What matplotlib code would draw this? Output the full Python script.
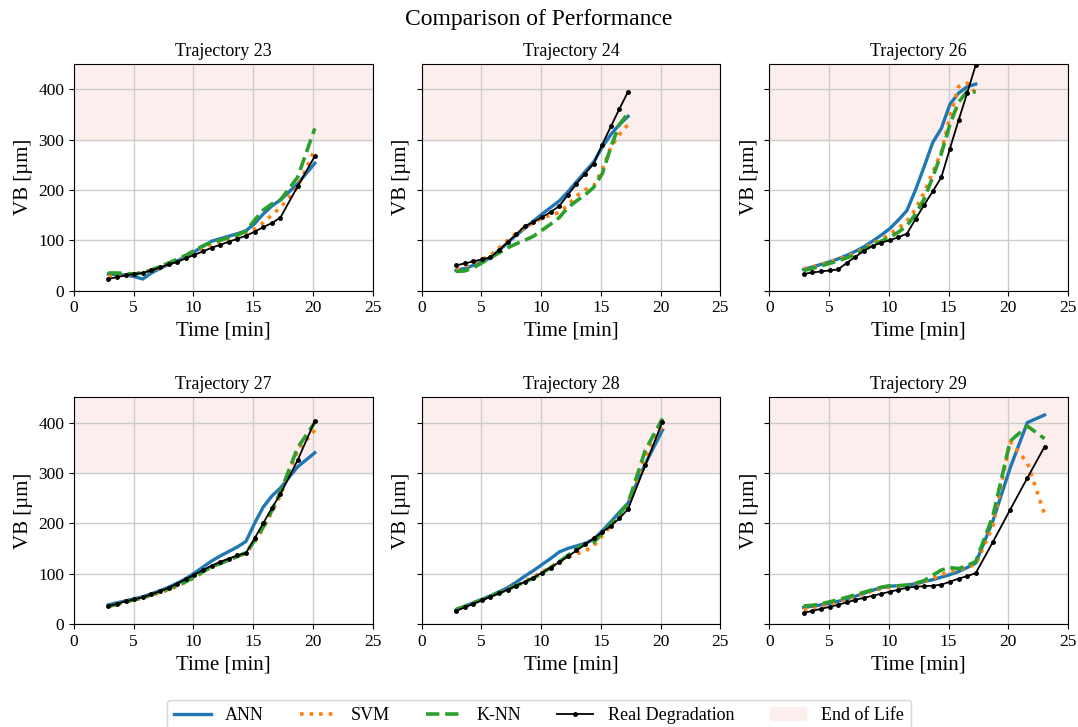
import matplotlib
matplotlib.use("Agg")
import matplotlib.pyplot as plt

plt.rcParams['font.family'] = ['Liberation Serif', 'DejaVu Serif']

# sampling instants of the wear measurements [min]
TIME = [2.88, 3.60, 4.32, 5.04, 5.76, 6.48, 7.20, 7.92, 8.64, 9.36,
        10.08, 10.80, 11.52, 12.24, 12.96, 13.68, 14.40, 15.12, 15.84,
        16.56, 17.28, 18.72, 20.16, 21.60, 23.04]

TRAJECTORIES = [23, 24, 26, 27, 28, 29]

real = {
    23: [23, 27, 30, 33, 35, 40, 46, 52, 57, 64, 71, 78, 85, 91, 97, 103,
         109, 117, 126, 134, 145, 207, 267],
    24: [50, 54, 58, 62, 66, 80, 96, 112, 128, 136, 146, 156, 168, 190, 212,
         232, 252, 290, 326, 361, 395],
    26: [33, 36, 38, 40, 42, 55, 67, 79, 89, 95, 100, 106, 113, 142, 170,
         197, 225, 282, 338, 392, 448],
    27: [36, 40, 45, 49, 53, 59, 65, 72, 80, 89, 98, 107, 116, 123, 130, 136,
         141, 170, 200, 230, 258, 325, 403],
    28: [26, 33, 40, 47, 54, 61, 68, 76, 84, 92, 102, 112, 123, 134, 146, 158,
         170, 182, 195, 210, 228, 315, 402],
    29: [22, 26, 30, 34, 38, 43, 48, 52, 56, 60, 64, 68, 72, 74, 75, 76, 78,
         84, 90, 95, 101, 163, 227, 290, 352],
}

ann = {
    23: [33, 32, 31, 28, 23, 35, 44, 52, 59, 67, 77, 88, 98, 103, 108, 113,
         119, 133, 152, 168, 180, 212, 253],
    24: [40, 44, 50, 57, 65, 80, 95, 110, 124, 138, 152, 165, 178, 196, 216,
         236, 255, 285, 310, 330, 346],
    26: [42, 47, 52, 57, 63, 70, 78, 87, 98, 110, 123, 140, 159, 200, 246,
         294, 322, 370, 392, 405, 410],
    27: [38, 42, 46, 50, 54, 60, 66, 73, 81, 90, 101, 113, 125, 135, 144, 153,
         164, 200, 232, 254, 270, 312, 340],
    28: [28, 35, 42, 49, 56, 64, 72, 83, 95, 106, 118, 130, 143, 150, 155,
         160, 168, 185, 203, 222, 240, 318, 385],
    29: [33, 35, 38, 41, 45, 50, 55, 61, 67, 72, 75, 76, 77, 80, 84, 88, 93,
         98, 104, 112, 121, 205, 310, 400, 415],
}

svm = {
    23: [30, 30, 31, 33, 36, 40, 46, 53, 60, 68, 77, 85, 92, 98, 103, 107,
         113, 122, 135, 150, 165, 205, 280],
    24: [42, 48, 55, 62, 70, 85, 100, 114, 125, 135, 144, 150, 155, 170, 188,
         200, 208, 240, 285, 310, 330],
    26: [43, 47, 52, 57, 62, 68, 75, 84, 93, 102, 112, 124, 138, 162, 195,
         235, 275, 345, 405, 412, 392],
    27: [35, 39, 43, 48, 52, 57, 62, 68, 75, 83, 92, 103, 113, 121, 128, 134,
         140, 162, 190, 222, 255, 345, 385],
    28: [27, 34, 41, 48, 55, 62, 69, 77, 85, 94, 103, 113, 123, 132, 139, 145,
         155, 175, 195, 215, 237, 330, 395],
    29: [28, 32, 36, 40, 45, 50, 55, 60, 66, 70, 73, 75, 77, 80, 84, 90, 98,
         104, 108, 113, 118, 195, 362, 320, 218],
}

knn = {
    23: [35, 35, 34, 33, 35, 41, 48, 55, 62, 70, 80, 89, 96, 100, 105, 110,
         118, 140, 160, 172, 180, 225, 322],
    24: [38, 39, 45, 55, 65, 75, 85, 93, 100, 108, 120, 132, 145, 165, 178,
         190, 205, 232, 285, 330, 352],
    26: [40, 44, 49, 54, 59, 65, 72, 81, 90, 98, 106, 116, 129, 152, 182,
         225, 272, 330, 374, 396, 394],
    27: [35, 39, 44, 48, 52, 58, 64, 70, 77, 84, 93, 104, 114, 120, 127, 134,
         142, 165, 192, 225, 262, 350, 400],
    28: [29, 35, 42, 48, 55, 62, 69, 76, 83, 91, 101, 112, 124, 136, 150, 158,
         162, 180, 198, 218, 240, 345, 408],
    29: [36, 37, 40, 44, 48, 53, 58, 63, 68, 73, 76, 76, 77, 81, 86, 97, 107,
         112, 110, 116, 124, 215, 363, 393, 368],
}

EOL_LIMIT = 300

fig = plt.figure(figsize=(10.78, 7.27), dpi=100)
axes = fig.subplots(2, 3, sharey=True)
fig.subplots_adjust(left=0.0686, right=0.9907, top=0.912, bottom=0.1417,
                    wspace=0.164, hspace=0.471)

for ax, traj in zip(axes.flat, TRAJECTORIES):
    n = len(real[traj])
    t = TIME[:n]
    ax.axhspan(EOL_LIMIT, 450, color='#fdeeee', zorder=0, label='End of Life')
    ax.plot(t, ann[traj], color='#1f77b4', lw=2.4, label='ANN', zorder=3)
    ax.plot(t, svm[traj], color='#ff7f0e', lw=2.6, ls=':', label='SVM', zorder=3)
    ax.plot(t, knn[traj], color='#2ca02c', lw=2.6, ls='--', label='K-NN', zorder=3)
    ax.plot(t, real[traj], color='black', lw=1.3, marker='o', ms=2.5,
            label='Real Degradation', zorder=4)
    ax.set_xlim(0, 25)
    ax.set_ylim(0, 450)
    ax.set_xticks([0, 5, 10, 15, 20, 25])
    ax.set_yticks([0, 100, 200, 300, 400])
    ax.grid(True, color='#cccccc', lw=1.0, zorder=1)
    ax.set_axisbelow(True)
    ax.tick_params(labelsize=12.5)
    ax.set_title(f'Trajectory {traj}', fontsize=13)
    ax.set_xlabel('Time [min]', fontsize=15)
    ax.set_ylabel('VB [µm]', fontsize=15)

fig.suptitle('Comparison of Performance', fontsize=17, y=0.9725, va='center')

handles, labels = axes[0, 0].get_legend_handles_labels()
order = [1, 2, 3, 4, 0]
fig.legend([handles[i] for i in order], [labels[i] for i in order],
           loc='upper center', bbox_to_anchor=(0.5, 0.05), ncol=5,
           fontsize=13)

fig.savefig('out.png', dpi=100)
